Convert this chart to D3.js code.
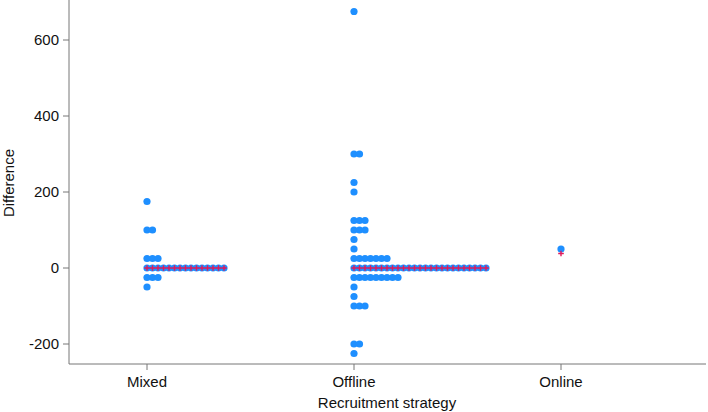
<!DOCTYPE html>
<html>
<head>
<meta charset="utf-8">
<script src="https://cdn.jsdelivr.net/npm/d3@7"></script>
<style>
  body { margin: 0; background: #fff; }
  text { font-family: "Liberation Sans", Arial, sans-serif; fill: #111; }
</style>
</head>
<body>
<svg id="chart" width="708" height="412"></svg>
<script>
// categories on the x axis
var categories = ["Mixed", "Offline", "Online"];

// binned values of Difference and how many cases fall into each bin
var mixedBins     = [175, 100, 25, 0, -25, -50];
var mixedCounts   = [1, 2, 3, 15, 3, 1];
var offlineBins   = [675, 300, 225, 200, 125, 100, 75, 50, 25, 0, -25, -50, -75, -100, -200, -225];
var offlineCounts = [1, 2, 1, 1, 3, 3, 1, 1, 7, 25, 9, 1, 1, 3, 2, 1];
var onlineBins    = [50];
var onlineCounts  = [1];

// red "+" markers (second series) per category: value and count
var plusValues = [0, 0, 38];
var plusCounts = [15, 25, 1];

var yTicks = [-200, 0, 200, 400, 600];

var svg = d3.select("#chart");
var x = d3.scalePoint().domain(categories).range([147, 561]);
var y = d3.scaleLinear().domain([-252.6, 705.3]).range([364, 0]);
var step = 5.5, r = 3.6;
var axisColor = "#777";

// build one point per case, stacked to the right of the category tick
function buildDots(cat, bins, counts) {
    var pts = [];
    bins.forEach(function (b, i) {
        for (var k = 0; k < counts[i]; k++) pts.push({ cat: cat, v: b, k: k });
    });
    return pts;
}
var dots = []
    .concat(buildDots("Mixed", mixedBins, mixedCounts))
    .concat(buildDots("Offline", offlineBins, offlineCounts))
    .concat(buildDots("Online", onlineBins, onlineCounts));

var pluses = [];
categories.forEach(function (c, i) {
    for (var k = 0; k < plusCounts[i]; k++) pluses.push({ cat: c, v: plusValues[i], k: k });
});

// axes
svg.append("line").attr("x1", 69).attr("x2", 69).attr("y1", 0).attr("y2", 364)
    .attr("stroke", axisColor).attr("stroke-width", 1);
svg.append("line").attr("x1", 69).attr("x2", 706).attr("y1", 364).attr("y2", 364)
    .attr("stroke", axisColor).attr("stroke-width", 1);

var yt = svg.append("g").selectAll("g").data(yTicks).enter().append("g");
yt.append("line").attr("x1", 63).attr("x2", 69)
    .attr("y1", function (d) { return y(d); }).attr("y2", function (d) { return y(d); })
    .attr("stroke", axisColor);
yt.append("text").attr("x", 59).attr("y", function (d) { return y(d) + 5; })
    .attr("text-anchor", "end").style("font-size", "15px")
    .text(function (d) { return d; });

var xt = svg.append("g").selectAll("g").data(categories).enter().append("g");
xt.append("line").attr("x1", function (d) { return x(d); }).attr("x2", function (d) { return x(d); })
    .attr("y1", 364).attr("y2", 370).attr("stroke", axisColor);
xt.append("text").attr("x", function (d) { return x(d); }).attr("y", 387)
    .attr("text-anchor", "middle").style("font-size", "15px")
    .text(function (d) { return d; });

svg.append("text").attr("x", 387).attr("y", 408).attr("text-anchor", "middle")
    .style("font-size", "15px").text("Recruitment strategy");
svg.append("text").attr("transform", "translate(14,183) rotate(-90)")
    .attr("text-anchor", "middle").style("font-size", "15px").text("Difference");

// dots
svg.append("g").selectAll("circle").data(dots).enter().append("circle")
    .attr("cx", function (d) { return x(d.cat) + d.k * step; })
    .attr("cy", function (d) { return y(d.v); })
    .attr("r", r)
    .attr("fill", "#1e8fff");

// red plus markers
var pg = svg.append("g").attr("stroke", "#e0195a").attr("stroke-width", 1.4);
pg.selectAll("path").data(pluses).enter().append("path")
    .attr("d", function (d) {
        var cx = x(d.cat) + d.k * step, cy = y(d.v);
        return "M" + (cx - 2.8) + "," + cy + "H" + (cx + 2.8) + "M" + cx + "," + (cy - 2.8) + "V" + (cy + 2.8);
    });
</script>
</body>
</html>
